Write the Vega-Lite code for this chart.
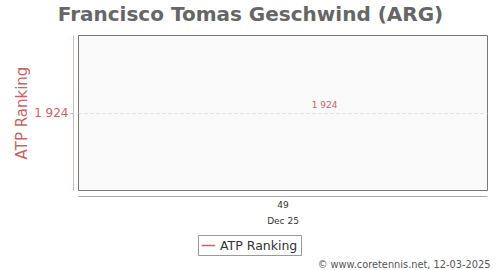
{
  "$schema": "https://vega.github.io/schema/vega-lite/v6.json",
  "autosize": "none",
  "width": 409,
  "height": 155,
  "padding": {"left": 78, "top": 35, "right": 13, "bottom": 80},
  "background": "white",
  "title": {
    "text": "Francisco Tomas Geschwind (ARG)",
    "fontSize": 20,
    "font": "DejaVu Sans",
    "fontWeight": "bold",
    "color": "#666666",
    "anchor": "middle",
    "dx": -32,
    "offset": 10
  },
  "config": {
    "font": "DejaVu Sans",
    "view": {"fill": "#f9f9f9", "stroke": "#777777", "strokeWidth": 1}
  },
  "data": {"values": [{"week": "49|Dec 25", "ranking": 1924, "label": "1 924", "series": "ATP Ranking"}]},
  "encoding": {
    "x": {
      "field": "week",
      "type": "nominal",
      "axis": {
        "labelExpr": "split(datum.value, '|')",
        "labelAngle": 0,
        "labelFontSize": 9,
        "labelColor": "#333333",
        "labelLineHeight": 16,
        "labelPadding": 4,
        "ticks": false,
        "domainColor": "#aaaaaa",
        "offset": 6,
        "title": "© www.coretennis.net, 12-03-2025",
        "titleFontSize": 9.8,
        "titleFontWeight": "normal",
        "titleColor": "#555555",
        "titleAnchor": "end",
        "titleAlign": "right",
        "titleBaseline": "alphabetic",
        "titleX": 412,
        "titleY": 71
      }
    },
    "y": {
      "field": "ranking",
      "type": "quantitative",
      "scale": {"domain": [1874, 1974], "reverse": true},
      "axis": {
        "values": [1924],
        "labelExpr": "replace(format(datum.value, ','), ',', ' ')",
        "labelFontSize": 12,
        "labelColor": "#c86464",
        "domainColor": "#e0b4b4",
        "tickColor": "#e0b4b4",
        "tickSize": 3,
        "offset": 5,
        "grid": true,
        "gridDash": [3, 3],
        "gridColor": "#dddddd",
        "title": "ATP Ranking",
        "titleFontSize": 15,
        "titleFontWeight": "normal",
        "titleColor": "#c86464",
        "titlePadding": 4
      }
    }
  },
  "layer": [
    {
      "mark": {"type": "line", "strokeWidth": 2},
      "encoding": {
        "color": {
          "field": "series",
          "type": "nominal",
          "scale": {"range": ["#c86464"]},
          "legend": {
            "title": null,
            "orient": "none",
            "legendX": 120,
            "legendY": 200,
            "symbolType": "stroke",
            "symbolStrokeWidth": 1.5,
            "symbolSize": 180,
            "labelFontSize": 12.5,
            "labelColor": "#333333",
            "strokeColor": "#999999",
            "fillColor": "white",
            "padding": 3
          }
        }
      }
    },
    {
      "mark": {"type": "text", "fontSize": 9, "color": "#c86464", "dx": 42, "dy": -8},
      "encoding": {
        "text": {"field": "label", "type": "nominal"}
      }
    }
  ]
}
